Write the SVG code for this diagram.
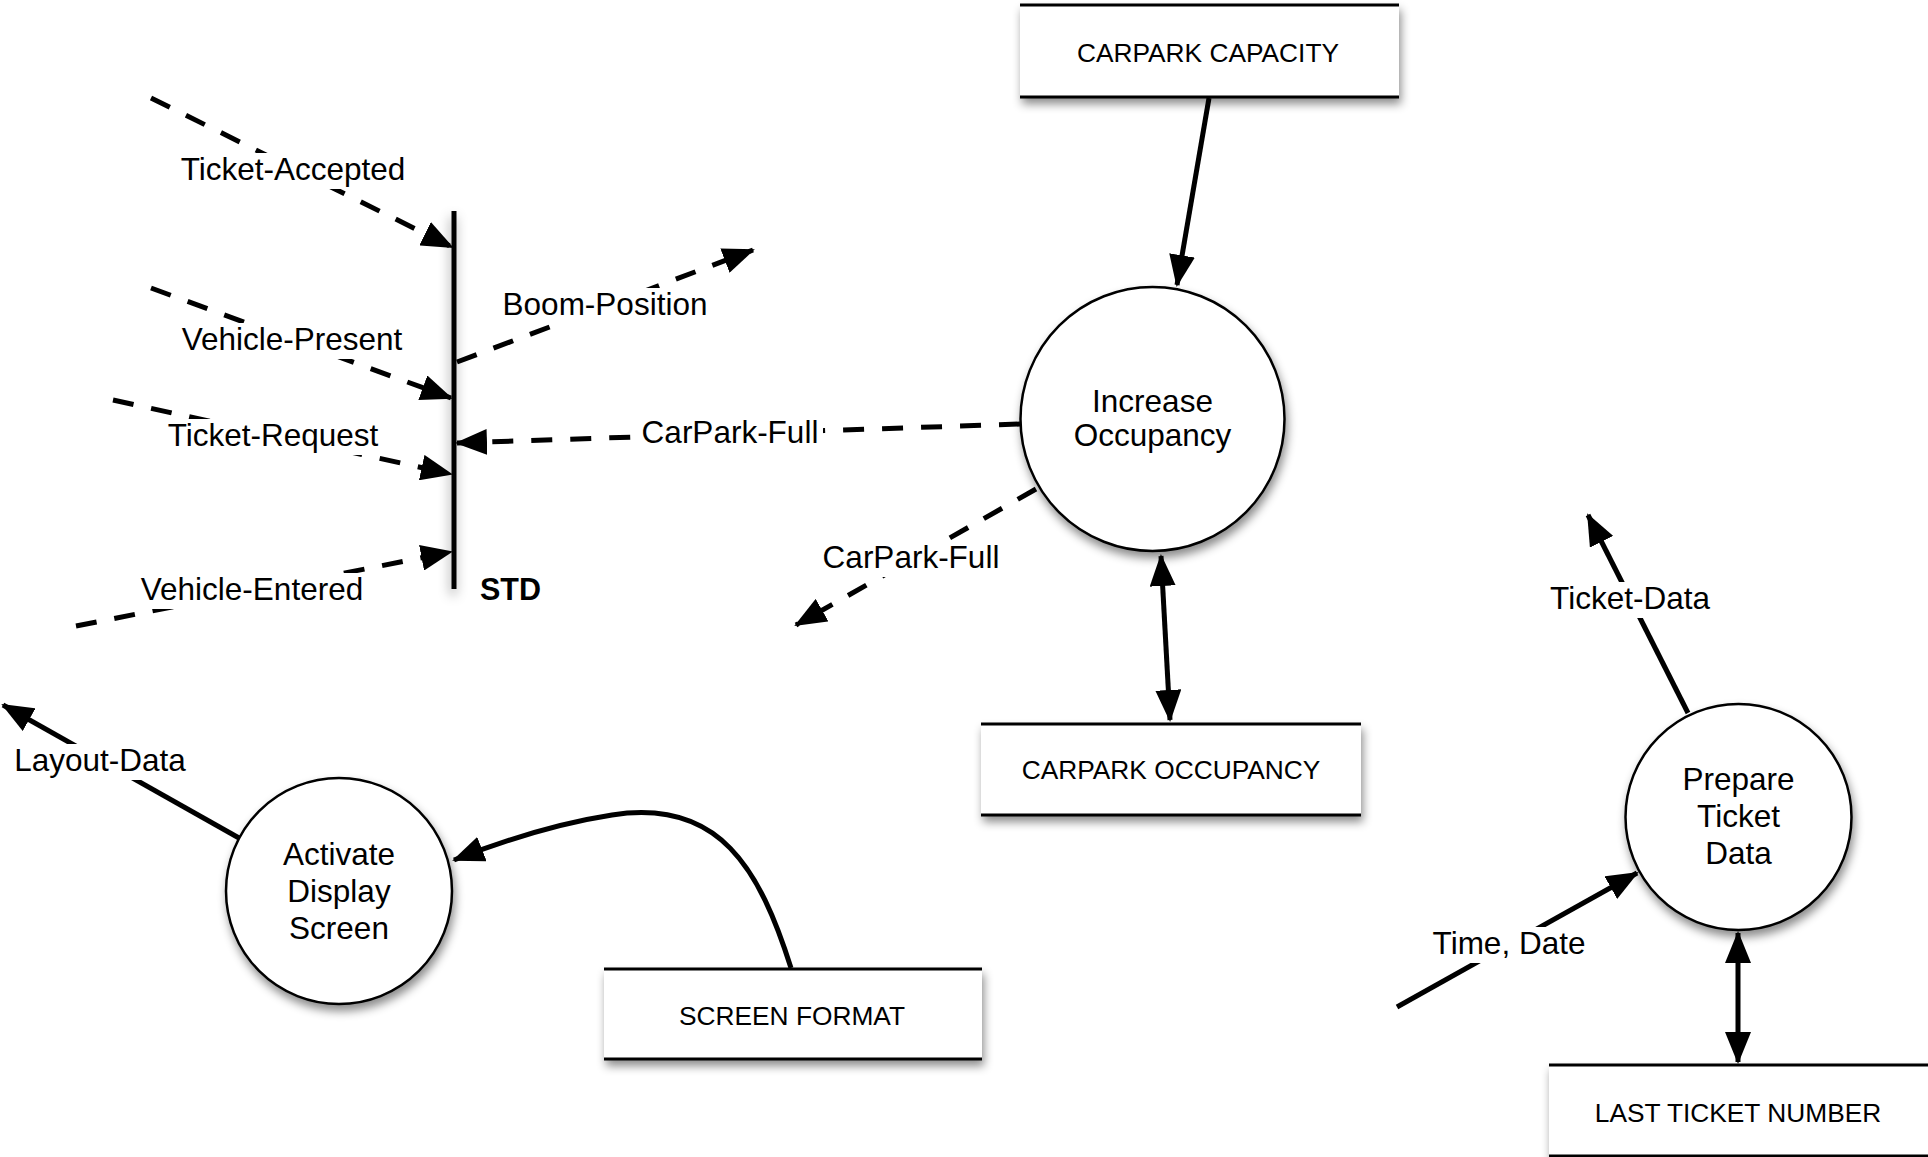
<svg xmlns="http://www.w3.org/2000/svg" width="1928" height="1157" viewBox="0 0 1928 1157">
<style>
  .ln{fill:none;stroke:#000;stroke-width:5}
  .dash{stroke-dasharray:21 18}
  .arr{marker-end:url(#ah)}
  .bi{marker-start:url(#ah);marker-end:url(#ah)}
  .lbl{font-family:"Liberation Sans",Arial,sans-serif;font-size:31.5px;fill:#000;text-anchor:middle}
  .box{font-family:"Liberation Sans",Arial,sans-serif;font-size:26.3px;fill:#000;text-anchor:middle}
  .bg{fill:#fff}
  .proc{fill:#fff;stroke:#000;stroke-width:2.5}
  .store{fill:#fff}
  .edge{stroke:#000;stroke-width:3}
</style>
<defs>
  <marker id="ah" viewBox="0 0 32 26" refX="30" refY="13" markerWidth="32" markerHeight="26" markerUnits="userSpaceOnUse" orient="auto-start-reverse">
    <path d="M0,0 L32,13 L0,26 z" fill="#000"/>
  </marker>
  <filter id="sh" x="-20%" y="-20%" width="140%" height="150%">
    <feDropShadow dx="2" dy="6" stdDeviation="5" flood-color="#000" flood-opacity="0.45"/>
  </filter>
  <filter id="shbar" filterUnits="userSpaceOnUse" x="420" y="190" width="80" height="430">
    <feDropShadow dx="-1" dy="6" stdDeviation="6" flood-color="#000" flood-opacity="0.4"/>
  </filter>
</defs>
<rect width="1928" height="1157" fill="#fff"/>

<g id="connectors">
  <line class="ln dash arr" x1="151" y1="98" x2="452" y2="247"/>
  <line class="ln dash arr" x1="151" y1="288" x2="451" y2="398"/>
  <line class="ln dash arr" x1="113" y1="400" x2="451" y2="474"/>
  <line class="ln dash arr" x1="76" y1="626" x2="451" y2="552"/>
  <line class="ln dash arr" x1="457" y1="362" x2="753" y2="250"/>
  <line class="ln dash arr" x1="1020" y1="424" x2="457" y2="443"/>
  <line class="ln dash arr" x1="1036" y1="489" x2="796" y2="625"/>
  <line class="ln arr" x1="1209" y1="98" x2="1177" y2="285"/>
  <line class="ln bi" x1="1161" y1="556" x2="1170" y2="720"/>
  <line class="ln arr" x1="239" y1="838" x2="3" y2="705"/>
  <path class="ln arr" d="M791 968 C760 870,720 798,612 815 C560 823,500 842,454 860"/>
  <line class="ln arr" x1="1688" y1="713" x2="1588" y2="515"/>
  <line class="ln arr" x1="1397" y1="1007" x2="1637" y2="873"/>
  <line class="ln bi" x1="1738" y1="933" x2="1738" y2="1062"/>
</g>

<g id="labels">
  <rect class="bg" x="176" y="153" width="234" height="36"/>
  <text class="lbl" x="293" y="180">Ticket-Accepted</text>
  <rect class="bg" x="176" y="323" width="232" height="36"/>
  <text class="lbl" x="292" y="350">Vehicle-Present</text>
  <rect class="bg" x="163" y="419" width="220" height="36"/>
  <text class="lbl" x="273" y="446">Ticket-Request</text>
  <rect class="bg" x="136" y="573" width="233" height="36"/>
  <text class="lbl" x="252" y="600">Vehicle-Entered</text>
  <rect class="bg" x="498" y="288" width="214" height="36"/>
  <text class="lbl" x="605" y="315">Boom-Position</text>
  <rect class="bg" x="637" y="416" width="186" height="36"/>
  <text class="lbl" x="730" y="443">CarPark-Full</text>
  <rect class="bg" x="818" y="541" width="186" height="36"/>
  <text class="lbl" x="911" y="568">CarPark-Full</text>
  <rect class="bg" x="9" y="744" width="182" height="36"/>
  <text class="lbl" x="100" y="771">Layout-Data</text>
  <rect class="bg" x="1545" y="582" width="171" height="36"/>
  <text class="lbl" x="1630" y="609">Ticket-Data</text>
  <rect class="bg" x="1427" y="927" width="164" height="36"/>
  <text class="lbl" x="1509" y="954">Time, Date</text>
</g>

<g id="std">
  <rect x="451.5" y="211" width="5" height="378" fill="#000" filter="url(#shbar)"/>
  <text x="480" y="600" font-family="'Liberation Sans',Arial,sans-serif" font-size="30.5" font-weight="bold">STD</text>
</g>

<g id="carpark-capacity">
  <rect class="store" x="1020" y="4" width="379" height="94" filter="url(#sh)"/>
  <line class="edge" x1="1020" y1="5" x2="1399" y2="5"/>
  <line class="edge" x1="1020" y1="97" x2="1399" y2="97"/>
  <text class="box" x="1208" y="62">CARPARK CAPACITY</text>
</g>

<g id="increase-occupancy">
  <circle class="proc" cx="1152.5" cy="419" r="132" filter="url(#sh)"/>
  <text class="lbl" x="1152.5" y="412">Increase</text>
  <text class="lbl" x="1152.5" y="446">Occupancy</text>
</g>

<g id="carpark-occupancy">
  <rect class="store" x="981" y="723" width="380" height="93" filter="url(#sh)"/>
  <line class="edge" x1="981" y1="724" x2="1361" y2="724"/>
  <line class="edge" x1="981" y1="815" x2="1361" y2="815"/>
  <text class="box" x="1171" y="779">CARPARK OCCUPANCY</text>
</g>

<g id="activate-display-screen">
  <circle class="proc" cx="339" cy="891" r="113" filter="url(#sh)"/>
  <text class="lbl" x="339" y="865">Activate</text>
  <text class="lbl" x="339" y="902">Display</text>
  <text class="lbl" x="339" y="939">Screen</text>
</g>

<g id="screen-format">
  <rect class="store" x="604" y="968" width="378" height="92" filter="url(#sh)"/>
  <line class="edge" x1="604" y1="969" x2="982" y2="969"/>
  <line class="edge" x1="604" y1="1059" x2="982" y2="1059"/>
  <text class="box" x="792" y="1025">SCREEN FORMAT</text>
</g>

<g id="prepare-ticket-data">
  <circle class="proc" cx="1738.5" cy="817" r="113" filter="url(#sh)"/>
  <text class="lbl" x="1738.5" y="790">Prepare</text>
  <text class="lbl" x="1738.5" y="827">Ticket</text>
  <text class="lbl" x="1738.5" y="864">Data</text>
</g>

<g id="last-ticket-number">
  <rect class="store" x="1549" y="1064" width="400" height="100" filter="url(#sh)"/>
  <line class="edge" x1="1549" y1="1065" x2="1928" y2="1065"/>
  <line class="edge" x1="1549" y1="1156" x2="1928" y2="1156"/>
  <text class="box" x="1738" y="1122">LAST TICKET NUMBER</text>
</g>
</svg>
